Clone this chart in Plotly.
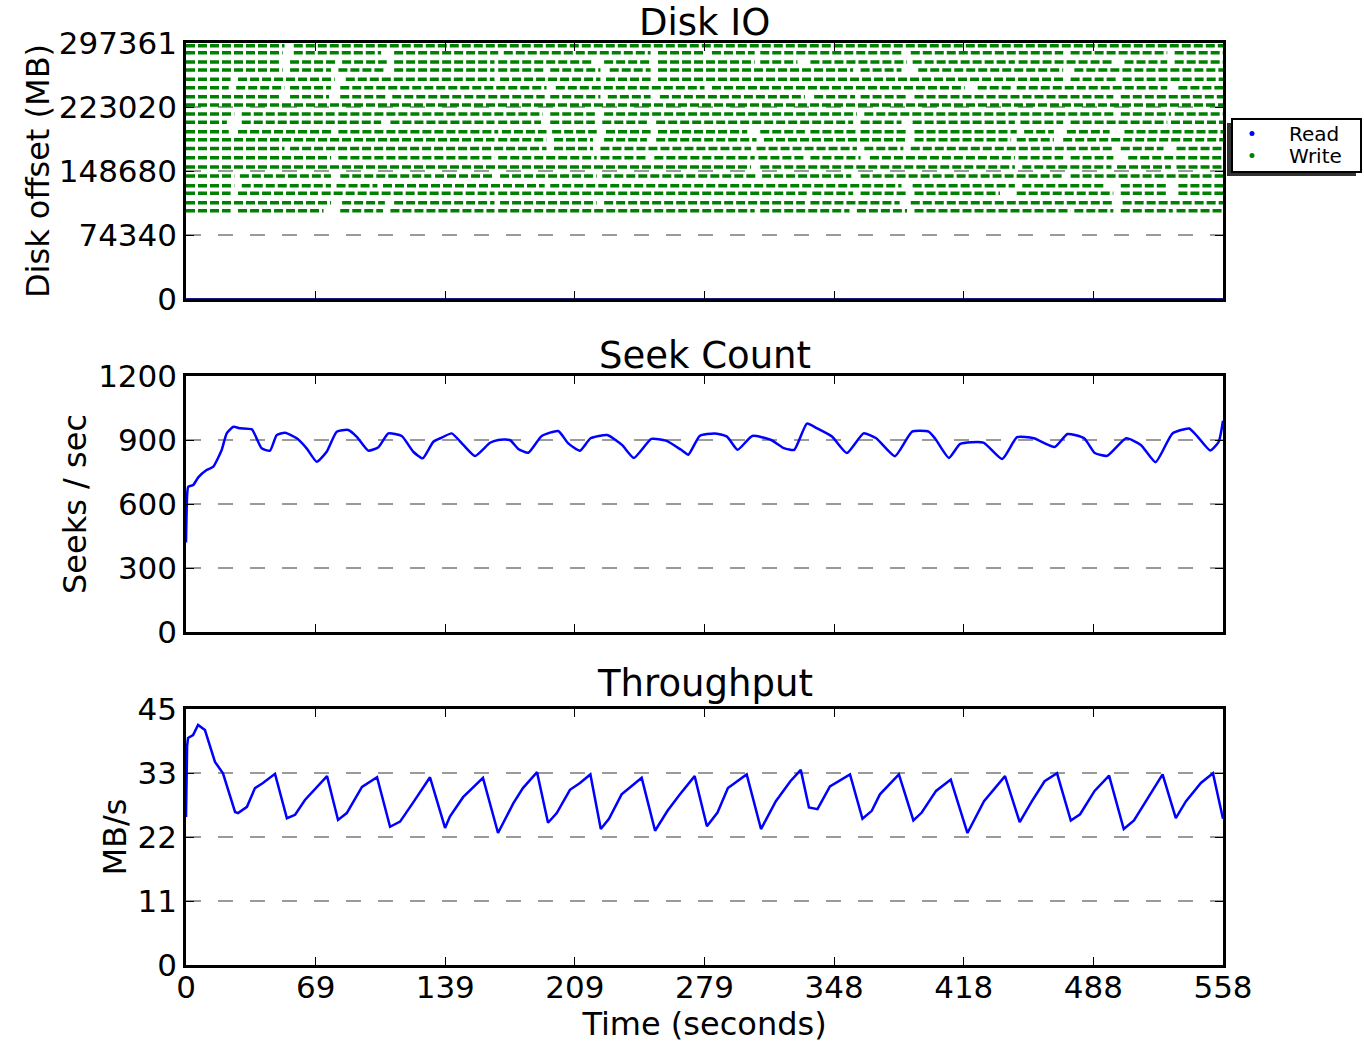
import plotly.graph_objects as go

# ---------------- data ----------------
x_max = 558
x_tickvals = [0, 69.75, 139.5, 209.25, 279, 348.75, 418.5, 488.25, 558]
x_ticktext = ["0", "69", "139", "209", "279", "348", "418", "488", "558"]

disk_max = 297361
disk_tickvals = [0, 74340.25, 148680.5, 223020.75, 297361]
disk_ticktext = ["0", "74340", "148680", "223020", "297361"]

seek_tickvals = [0, 300, 600, 900, 1200]
seek_ticktext = ["0", "300", "600", "900", "1200"]

tput_tickvals = [0, 11.25, 22.5, 33.75, 45]
tput_ticktext = ["0", "11", "22", "33", "45"]

# Write requests: one row per disk offset band (MB), with blank time gaps (s)
write_offsets = [294200, 286100, 275300, 266000, 255200, 245400, 235000, 225300,
                 214800, 205300, 194300, 184900, 174700, 164100, 153300, 142900,
                 131600, 122800, 111900, 102600]
write_gaps = [
    [[53, 58]],
    [[52, 58], [105, 112], [168, 171], [250, 254], [279, 283], [306, 309], [386, 390], [472, 476], [528, 532]],
    [[50, 56], [81, 84], [108, 112], [166, 168], [219, 225], [250, 254], [306, 309], [329, 336], [388, 391], [446, 448], [499, 505], [528, 532]],
    [[52, 56], [78, 82], [107, 112], [166, 168], [193, 196], [223, 228], [250, 254], [359, 363], [385, 394], [472, 478]],
    [[24, 28], [80, 86], [166, 169], [223, 226], [250, 254], [472, 476], [501, 504]],
    [[23, 27], [53, 56], [78, 83], [194, 199], [279, 283], [419, 426], [444, 447], [528, 534]],
    [[50, 56], [77, 83], [108, 111], [193, 196], [223, 227], [250, 255], [333, 338], [360, 363], [388, 392], [499, 503]],
    [],
    [[26, 30], [80, 82], [192, 196], [220, 225], [361, 365], [499, 503], [530, 532]],
    [[22, 30], [105, 110], [166, 168], [191, 196], [220, 224], [248, 253], [359, 363], [385, 391], [446, 449], [472, 476], [528, 530]],
    [[23, 28], [79, 82], [168, 170], [194, 197], [221, 226], [250, 254], [302, 309], [333, 336], [361, 363], [388, 392], [447, 451], [467, 474], [497, 505]],
    [[166, 168], [194, 198], [219, 225], [248, 253], [307, 311], [388, 392], [444, 447], [467, 472]],
    [[53, 56], [194, 198], [219, 223], [304, 307], [361, 365], [386, 390], [499, 503], [526, 533]],
    [[78, 82], [166, 168], [221, 223], [248, 252], [306, 308], [333, 336], [363, 368], [446, 448], [472, 476], [499, 507]],
    [[304, 309], [446, 450], [498, 501], [530, 533]],
    [[26, 29], [78, 83], [132, 134], [166, 169], [221, 224], [307, 310], [358, 363], [472, 476]],
    [[26, 30], [78, 81], [103, 106], [193, 196], [385, 391], [446, 450], [494, 503], [528, 534]],
    [[24, 28], [71, 73], [166, 168], [334, 337], [359, 363], [388, 392], [438, 447], [499, 503], [528, 534]],
    [[78, 84], [107, 112], [166, 169], [221, 225], [333, 336], [384, 390], [499, 504]],
    [[24, 28], [74, 83], [106, 110], [166, 168], [306, 309], [357, 361], [388, 392], [476, 478], [499, 503], [531, 533]],
]

# Read requests (at offset 0)
read_times = [0, 558]
read_offsets = [0, 0]

# Seek count (seeks / sec)
seek_t = [0, 0.6, 1.2, 3.9, 6.6, 11.1, 14.7, 19.2, 21.9, 25.5, 29.1, 35.4, 40.7, 45.2, 48.8,
          53.3, 59.6, 64.9, 70.3, 75.7, 81.1, 87.3, 91.9, 98.1, 103.5, 108.9, 116.1, 122.3,
          127.4, 133.1, 137.6, 143.0, 149.2, 155.5, 163.6, 168.0, 174.3, 178.8, 184.2, 191.4,
          200.3, 205.7, 212.0, 217.7, 226.7, 234.6, 241.0, 250.4, 258.3, 266.4, 270.3, 276.4,
          284.4, 291.1, 296.8, 304.7, 314.9, 321.7, 327.3, 334.1, 339.7, 347.6, 355.6, 364.6,
          371.4, 381.5, 390.7, 399.6, 403.0, 410.5, 416.6, 429.1, 439.2, 447.2, 456.2, 467.5,
          474.3, 483.3, 489.0, 495.7, 505.9, 513.8, 521.7, 530.8, 539.8, 544.3, 551.1, 555.7, 558]
seek_v = [420, 640, 681, 689, 725, 759, 775, 853, 931, 962, 955, 950, 861, 850, 923,
          934, 908, 861, 798, 845, 939, 947, 915, 850, 866, 931, 919, 845,
          814, 892, 911, 931, 877, 825, 887, 900, 900, 858, 840, 919,
          942, 884, 850, 908, 923, 877, 816, 905, 897, 854, 831, 919,
          931, 916, 854, 919, 900, 862, 854, 977, 954, 916, 839, 931,
          908, 824, 939, 939, 908, 816, 882, 888, 811, 913, 908, 867,
          928, 908, 839, 826, 908, 877, 796, 931, 954, 916, 851, 892, 990]

# Throughput (MB/s)
tput_t = [0, 0.6, 1.1, 3.8, 6.5, 10.2, 15.6, 19.9, 26.4, 28.0, 32.8, 37.1, 41.4, 47.9,
          54.3, 58.7, 64.0, 70.5, 75.9, 81.8, 86.5, 94.7, 102.8, 109.8, 115.2, 122.1, 131.3,
          139.4, 142.0, 149.1, 159.8, 167.9, 176.1, 181.3, 188.9, 194.8, 199.5, 206.6, 212.0,
          217.6, 223.2, 227.6, 234.4, 240.0, 245.2, 252.4, 259.1, 265.8, 273.7, 280.3, 286.0,
          291.6, 301.7, 309.4, 317.4, 325.2, 330.8, 335.2, 339.8, 346.5, 357.3, 364.0, 369.0,
          373.4, 383.6, 391.4, 395.9, 403.6, 411.5, 420.5, 429.4, 440.7, 448.6, 455.2, 462.0,
          468.7, 476.1, 481.1, 488.9, 496.7, 504.6, 510.1, 518.1, 525.5, 532.6, 538.1, 546.1,
          552.6, 558]
tput_v = [26.0, 38.5, 39.9, 40.4, 42.2, 41.3, 35.7, 33.7, 26.9, 26.7, 27.8, 31.1, 32.0, 33.6,
          25.8, 26.4, 29.0, 31.3, 33.2, 25.5, 26.7, 31.3, 33.0, 24.3, 25.2, 28.5, 33.0,
          24.1, 26.1, 29.5, 32.9, 23.2, 28.4, 31.1, 33.9, 25.0, 26.7, 30.8, 32.0,
          33.5, 23.9, 25.7, 30.0, 31.5, 32.9, 23.6, 27.1, 30.0, 33.2, 24.4, 26.8,
          31.1, 33.5, 23.9, 28.8, 32.3, 34.3, 27.7, 27.4, 31.4, 33.5, 25.7, 27.1,
          30.0, 33.5, 25.4, 26.8, 30.6, 32.6, 23.2, 28.8, 33.2, 25.1, 28.8, 32.3,
          33.7, 25.4, 26.5, 30.6, 33.3, 23.9, 25.4, 29.7, 33.5, 25.8, 28.8, 32.0,
          33.7, 25.7]

# ---------------- layout geometry ----------------
W, H = 1364, 1043
FONT = "DejaVu Sans"
BLUE = "#0000ff"
GREEN = "#008000"


def px_x(p):
    return p / W


def px_y(p):
    return 1 - p / H


x_dom = [px_x(186), px_x(1223)]
dom_top = [px_y(299), px_y(43)]
dom_mid = [px_y(632), px_y(376)]
dom_bot = [px_y(965), px_y(709)]

# build write rows as line segments separated by None
wx, wy = [], []
for off, gaps in zip(write_offsets, write_gaps):
    start = 0
    for g0, g1 in gaps:
        wx += [start, g0, None]
        wy += [off, off, None]
        start = g1
    wx += [start, x_max, None]
    wy += [off, off, None]

fig = go.Figure()

fig.add_trace(go.Scatter(x=wx, y=wy, mode="lines", xaxis="x", yaxis="y",
                         line=dict(color=GREEN, width=3.5, dash="9px,3px"),
                         showlegend=False, hoverinfo="skip"))
fig.add_trace(go.Scatter(x=read_times, y=read_offsets, mode="lines", xaxis="x", yaxis="y",
                         line=dict(color="#1a1a80", width=2), showlegend=False, hoverinfo="skip"))
# legend entries (one per legend so each can be placed exactly)
fig.add_trace(go.Scatter(x=[None], y=[None], mode="markers", name="Read", xaxis="x", yaxis="y",
                         marker=dict(color=BLUE, size=5), legend="legend"))
fig.add_trace(go.Scatter(x=[None], y=[None], mode="markers", name="Write", xaxis="x", yaxis="y",
                         marker=dict(color=GREEN, size=5), legend="legend2"))

fig.add_trace(go.Scatter(x=seek_t, y=seek_v, mode="lines", xaxis="x2", yaxis="y2",
                         line=dict(color=BLUE, width=2.5, shape="spline", smoothing=0.5),
                         showlegend=False))
fig.add_trace(go.Scatter(x=tput_t, y=tput_v, mode="lines", xaxis="x3", yaxis="y3",
                         line=dict(color=BLUE, width=2.5), showlegend=False))

tickfont = dict(family=FONT, size=31, color="black")
common = dict(showline=True, linecolor="black", linewidth=2.5, mirror="allticks",
              ticks="inside", ticklen=8, tickwidth=1.2, tickcolor="black",
              zeroline=False, tickfont=tickfont, automargin=False)
xcommon = dict(common, range=[0, x_max], tickmode="array", tickvals=x_tickvals,
               ticktext=x_ticktext, showgrid=False, domain=x_dom)
ycommon = dict(common, showgrid=True, gridcolor="#9a9a9a", gridwidth=2, griddash="15px,17px",
               tickmode="array")
ytitle = dict(family=FONT, size=32, color="black")

legend_common = dict(xanchor="left", yanchor="top", bgcolor="rgba(0,0,0,0)", borderwidth=0,
                     itemwidth=64, font=dict(family=FONT, size=20, color="black"))

fig.update_layout(
    width=W, height=H,
    margin=dict(l=0, r=0, t=0, b=0, autoexpand=False),
    paper_bgcolor="white", plot_bgcolor="white",
    font=dict(family=FONT, color="black"),
    xaxis=dict(xcommon, anchor="y", showticklabels=False),
    xaxis2=dict(xcommon, anchor="y2", showticklabels=False),
    xaxis3=dict(xcommon, anchor="y3", ticklabelstandoff=-7,
                title=dict(text="Time (seconds)", font=ytitle, standoff=0)),
    yaxis=dict(ycommon, domain=dom_top, anchor="x", range=[0, disk_max],
               tickvals=disk_tickvals, ticktext=disk_ticktext,
               title=dict(text="Disk offset (MB)", font=ytitle, standoff=0)),
    yaxis2=dict(ycommon, domain=dom_mid, anchor="x2", range=[0, 1200],
                tickvals=seek_tickvals, ticktext=seek_ticktext,
                title=dict(text="Seeks / sec", font=ytitle, standoff=2)),
    yaxis3=dict(ycommon, domain=dom_bot, anchor="x3", range=[0, 45],
                tickvals=tput_tickvals, ticktext=tput_ticktext,
                title=dict(text="MB/s", font=ytitle, standoff=2)),
    legend=dict(legend_common, x=px_x(1215), y=px_y(114)),
    legend2=dict(legend_common, x=px_x(1215), y=px_y(136)),
    shapes=[
        dict(type="rect", xref="paper", yref="paper", x0=px_x(1227), x1=px_x(1356),
             y0=px_y(176), y1=px_y(123), fillcolor="#333333", line=dict(width=0), layer="above"),
        dict(type="rect", xref="paper", yref="paper", x0=px_x(1232), x1=px_x(1361),
             y0=px_y(172), y1=px_y(119), fillcolor="white", line=dict(color="black", width=2),
             layer="above"),
    ],
    annotations=[
        dict(text="Disk IO", x=sum(x_dom) / 2, y=dom_top[1], xref="paper", yref="paper",
             xanchor="center", yanchor="bottom", showarrow=False, yshift=-3,
             font=dict(family=FONT, size=37, color="black")),
        dict(text="Seek Count", x=sum(x_dom) / 2, y=dom_mid[1], xref="paper", yref="paper",
             xanchor="center", yanchor="bottom", showarrow=False, yshift=-3,
             font=dict(family=FONT, size=37, color="black")),
        dict(text="Throughput", x=sum(x_dom) / 2, y=dom_bot[1], xref="paper", yref="paper",
             xanchor="center", yanchor="bottom", showarrow=False, yshift=2,
             font=dict(family=FONT, size=37, color="black")),
    ],
)

fig.write_html("out.html", config=dict(displayModeBar=False),
               post_script="document.body.style.margin='0';")
